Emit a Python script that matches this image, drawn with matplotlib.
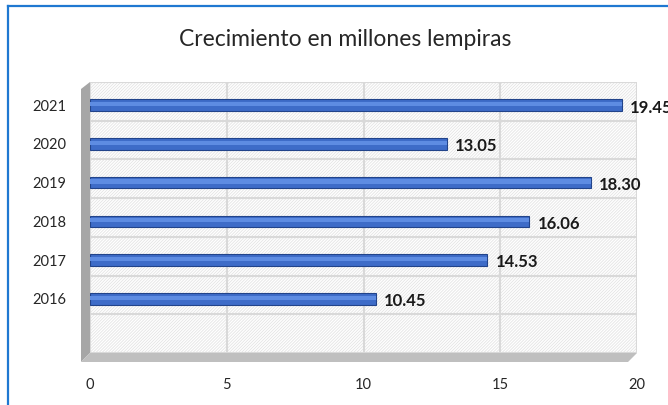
import numpy as np
import matplotlib.pyplot as plt
from matplotlib.patches import Rectangle, Polygon
from matplotlib.lines import Line2D

plt.rcParams['font.family'] = ['Lato', 'DejaVu Sans']
plt.rcParams['hatch.linewidth'] = 0.6
plt.rcParams['hatch.color'] = '#E4E4E4'

years = ['2016', '2017', '2018', '2019', '2020', '2021']
values = [10.45, 14.53, 16.06, 18.30, 13.05, 19.45]
xticks = [0, 5, 10, 15, 20]
title = "Crecimiento en millones lempiras"

W, H = 668, 405
fig = plt.figure(figsize=(W / 100, H / 100), dpi=100)

# back wall in pixels: left 90, right 637, top 82, bottom 353
L, R, T, B = 90, 637, 82, 353
ax = fig.add_axes([L / W, 1 - B / H, (R - L) / W, (B - T) / H])
ax.set_xlim(0, 20)
ax.set_ylim(-0.5, 6.5)

# hatched back wall
ax.add_patch(Rectangle((0, 0), 1, 1, transform=ax.transAxes, facecolor='white',
                       edgecolor='#E4E4E4', hatch='/' * 11, lw=0, zorder=0))

# bars sit a little below the band centres (3-D perspective look)
ypos = np.arange(1, len(years) + 1) - 0.1
ax.set_yticks(ypos)
ax.set_yticklabels(years)
ax.set_yticks(np.arange(-0.5, 7, 1), minor=True)
ax.set_xticks(xticks)
ax.grid(True, which='minor', axis='y', color='#D9D9D9', lw=1.5, zorder=1)
ax.grid(True, which='major', axis='x', color='#D9D9D9', lw=1.5, zorder=1)
ax.tick_params(axis='both', which='both', length=0)
ax.tick_params(axis='y', pad=17, labelsize=10.5, colors='#262626')
ax.tick_params(axis='x', pad=18, labelsize=10.5, colors='#262626')
for s in ax.spines.values():
    s.set_visible(False)

# bars (cylinder-like)
ax.barh(ypos, values, height=0.3, color='#3E6CC8', edgecolor='#22448A',
        lw=0.8, zorder=3)
ax.barh(ypos + 0.03, values, height=0.11, color='#5E8CE2', lw=0, zorder=4)
for y, v in zip(ypos, values):
    ax.text(v + 0.3, y - 0.06, f"{v:.2f}", va='center', ha='left',
            fontsize=12, fontweight='bold', color='#1A1A1A', zorder=5,
            clip_on=False)


def px(x, y):
    return ((x - L) / (R - L), (B - y) / (B - T))


# left side wall
ax.add_patch(Polygon([px(81, 89), px(90, 82), px(90, 353), px(81, 362)],
                     closed=True, transform=ax.transAxes, facecolor='#A6A6A6',
                     edgecolor='none', clip_on=False, zorder=2))
# floor
ax.add_patch(Polygon([px(81, 362), px(90, 353), px(637, 353), px(628, 362)],
                     closed=True, transform=ax.transAxes, facecolor='#BFBFBF',
                     edgecolor='none', clip_on=False, zorder=2))

fig.text(345 / W, 1 - 40 / H, title, ha='center', va='center', fontsize=16.5,
         color='#262626')

# frame lines (left and top)
fig.add_artist(Line2D([8 / W, 8 / W], [0, 1 - 6 / H], color='#1F78D1', lw=1.6))
fig.add_artist(Line2D([8 / W, 1], [1 - 6 / H, 1 - 6 / H], color='#1F78D1', lw=1.6))

fig.savefig('out.png', dpi=100)
